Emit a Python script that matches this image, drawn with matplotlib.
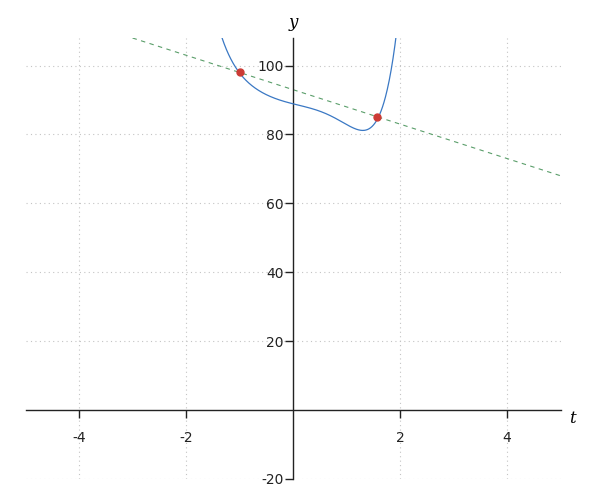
import numpy as np
import matplotlib.pyplot as plt

# curve: polynomial coefficients (highest power first)
curve_coef = [1.1486, 0.0843, -0.8428, -3.6737, 1.1589, -3.8905, 88.8935]
curve_range = [-1.5, 2.0]

# the two marked points and the dashed secant line through them
pt_t = [-1.0, 1.57]
pt_y = [98.0, 85.0]
line_t = [-3.0, 5.0]
line_y = [108.0, 68.0]

xticks = [-4, -2, 2, 4]
yticks = [-20, 20, 40, 60, 80, 100]

fig = plt.figure(figsize=(6, 5), dpi=100)
ax = fig.add_axes([0.0425, 0.042, 0.892, 0.882])

t = np.linspace(curve_range[0], curve_range[1], 500)
ax.plot(t, np.polyval(curve_coef, t), color='#3a78c4', lw=0.9, zorder=3)
ax.plot(line_t, line_y, color='#5a9e6a', lw=0.8, ls=(0, (4, 4)), zorder=2)
ax.plot(pt_t, pt_y, 'o', color='#cc3b35', ms=5, zorder=4)

ax.set_xlim(-5, 5)
ax.set_ylim(-20, 108)

# axes through the origin
ax.spines['left'].set_position(('data', 0))
ax.spines['bottom'].set_position(('data', 0))
ax.spines['right'].set_visible(False)
ax.spines['top'].set_visible(False)
for s in ['left', 'bottom']:
    ax.spines[s].set_color('#222222')
    ax.spines[s].set_linewidth(1.0)

ax.set_xticks(xticks)
ax.set_yticks(yticks)
ax.set_xticklabels([str(v) for v in xticks])
ax.set_yticklabels([str(v) for v in yticks])
ax.tick_params(axis='x', direction='out', length=6, width=1, pad=9,
               colors='#222222', labelcolor='#222222', labelsize=10)
ax.tick_params(axis='y', direction='out', length=6, width=1, pad=1,
               colors='#222222', labelcolor='#222222', labelsize=10)

ax.grid(True, ls=(0, (1, 3)), color='#c4c4c4', lw=0.8)
ax.set_axisbelow(True)

ax.text(0, 1.015, 'y', transform=ax.get_xaxis_transform(), ha='center', va='bottom',
        fontsize=12, family='DejaVu Serif', style='italic')
ax.text(1.015, -2.5, 't', transform=ax.get_yaxis_transform(), ha='left', va='center',
        fontsize=12, family='DejaVu Serif', style='italic')

fig.savefig("out.png")
